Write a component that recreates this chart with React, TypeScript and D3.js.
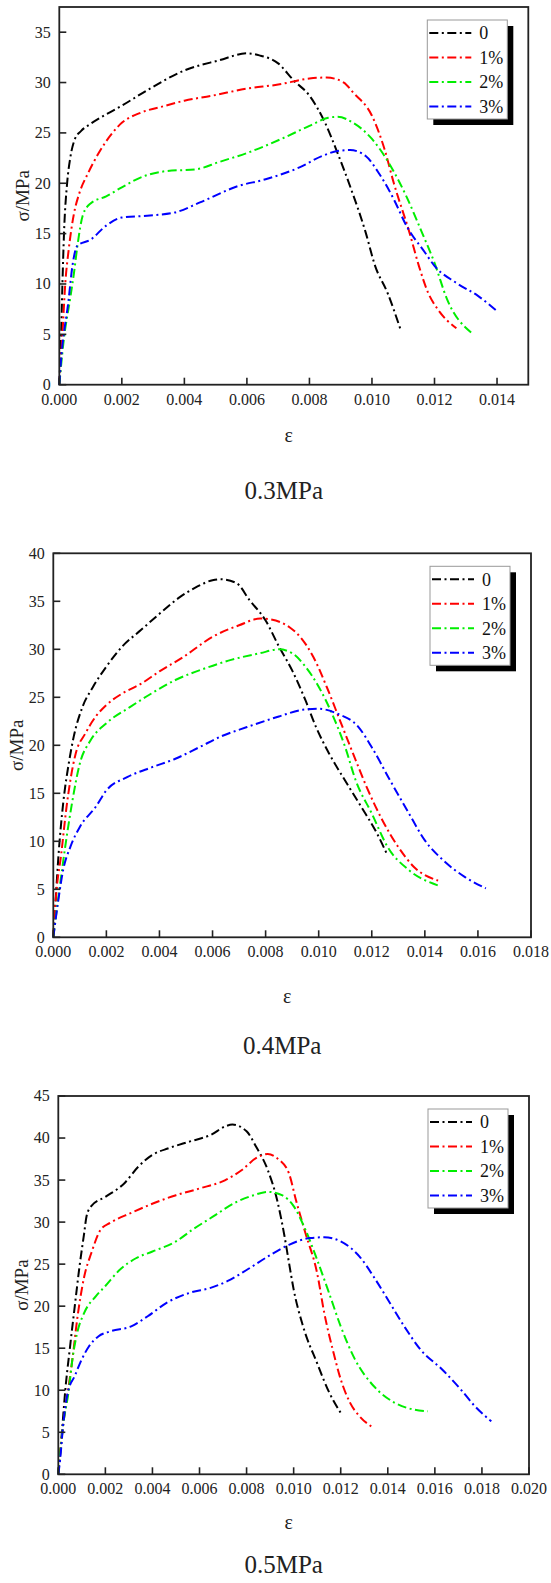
import * as d3 from 'd3';

// legend entries
const seriesNames = ['0', '1%', '2%', '3%'];
const seriesColors = ['#000000', '#ff0000', '#00ee00', '#0000ff'];

// panel titles
const titles = ['0.3MPa', '0.4MPa', '0.5MPa'];

// axis ticks
const xTicks03 = [0, 0.002, 0.004, 0.006, 0.008, 0.01, 0.012, 0.014];
const xTicks04 = [0, 0.002, 0.004, 0.006, 0.008, 0.01, 0.012, 0.014, 0.016, 0.018];
const xTicks05 = [0, 0.002, 0.004, 0.006, 0.008, 0.01, 0.012, 0.014, 0.016, 0.018, 0.02];
const yTicks03 = [0, 5, 10, 15, 20, 25, 30, 35];
const yTicks04 = [0, 5, 10, 15, 20, 25, 30, 35, 40];
const yTicks05 = [0, 5, 10, 15, 20, 25, 30, 35, 40, 45];

// [strain, stress MPa]
const p03_0 = [[0,0],[0.00005,4],[0.0001,10],[0.00015,15],[0.00025,20],[0.00035,22.5],[0.0005,24.4],[0.0007,25.2],[0.001,25.9],[0.002,27.7],[0.0029,29.4],[0.004,31.2],[0.0051,32.2],[0.006,32.9],[0.0064,32.7],[0.007,31.9],[0.0075,30.2],[0.008,28.7],[0.0085,26],[0.0089,23],[0.0093,19.7],[0.0098,15.1],[0.0101,11.8],[0.0105,9.1],[0.0109,5.6]];
const p03_1 = [[0,0],[0.0001,5],[0.00019,10],[0.0003,13.4],[0.00047,17],[0.00064,19],[0.00092,21],[0.00126,23],[0.0017,25],[0.002,26],[0.0026,27],[0.0034,27.7],[0.004,28.2],[0.0049,28.7],[0.006,29.4],[0.007,29.8],[0.008,30.4],[0.00855,30.5],[0.0091,30],[0.0094,29],[0.01,26.7],[0.0104,23.4],[0.0107,20],[0.0112,15.1],[0.0115,11.8],[0.0118,9.1],[0.0121,7.5],[0.0127,5.6]];
const p03_2 = [[0,0],[0.00013,4.1],[0.00036,8.8],[0.00047,11.1],[0.00058,13.8],[0.00075,16.8],[0.001,18],[0.0015,18.7],[0.002,19.6],[0.0027,20.7],[0.0034,21.2],[0.0044,21.4],[0.0051,22.1],[0.006,23],[0.0071,24.4],[0.008,25.7],[0.0086,26.5],[0.0089,26.6],[0.0094,26],[0.01,24.4],[0.0106,21.7],[0.0111,18.7],[0.0116,15.1],[0.012,12.1],[0.0124,8.5],[0.0132,5.1]];
const p03_3 = [[0,0],[0.00004,1.8],[0.0003,8.5],[0.00042,11.8],[0.00058,13.8],[0.001,14.4],[0.0015,15.8],[0.002,16.6],[0.0029,16.8],[0.0037,17.1],[0.0045,18.1],[0.0057,19.7],[0.0066,20.4],[0.0077,21.6],[0.0084,22.7],[0.0089,23.2],[0.0093,23.3],[0.0098,22.7],[0.0102,21.1],[0.0107,18.4],[0.0111,15.8],[0.0117,13.1],[0.012,11.8],[0.0127,10.1],[0.0134,8.8],[0.014,7.3]];

const p04_0 = [[0,0],[0.00008,3.5],[0.0002,8.7],[0.00037,13.9],[0.0006,18.4],[0.00077,20.9],[0.0011,24],[0.0015,26.1],[0.002,28.2],[0.0026,30.3],[0.0033,32],[0.004,33.7],[0.0047,35.3],[0.0054,36.5],[0.006,37.2],[0.0063,37.3],[0.0069,36.9],[0.0074,35.1],[0.008,33],[0.0085,30.3],[0.009,27.8],[0.0095,24.7],[0.0099,21.9],[0.0104,19.1],[0.011,16.3],[0.0116,13.6],[0.0122,10.8],[0.0126,8.5]];
const p04_1 = [[0,0],[0.0001,4.2],[0.0003,8.7],[0.0005,13.6],[0.00064,16.3],[0.00084,19.1],[0.0012,21.2],[0.0016,23],[0.002,24.2],[0.0026,25.4],[0.0033,26.4],[0.004,27.7],[0.0049,29.2],[0.006,31.3],[0.007,32.5],[0.0078,33.2],[0.0082,33.1],[0.0089,32.3],[0.0093,31.3],[0.0098,29.2],[0.0103,26.1],[0.0108,22.6],[0.0113,19.1],[0.0118,15.7],[0.0124,12.2],[0.013,9.4],[0.0136,7.3],[0.0145,5.9]];
const p04_2 = [[0,0],[0.00024,5.2],[0.0005,10.4],[0.0007,13.9],[0.001,18.1],[0.0014,20.5],[0.002,22.3],[0.0029,24],[0.0037,25.4],[0.0046,26.8],[0.0057,28],[0.0067,28.9],[0.0078,29.6],[0.0085,30],[0.009,29.6],[0.0095,28.2],[0.01,26.1],[0.0105,23.3],[0.011,19.8],[0.0114,16.3],[0.012,12.9],[0.0126,9.4],[0.0134,7],[0.0145,5.4]];
const p04_3 = [[0,0],[0.00017,3.5],[0.00037,7],[0.00064,9.4],[0.001,11.5],[0.0016,13.6],[0.002,15.3],[0.0028,16.7],[0.0037,17.7],[0.0046,18.6],[0.0055,19.8],[0.0063,20.9],[0.0073,21.9],[0.0085,23],[0.0094,23.7],[0.01,23.8],[0.0107,23.3],[0.0115,21.9],[0.012,19.8],[0.0127,16.3],[0.0134,12.9],[0.014,10.1],[0.0147,8],[0.0155,6.3],[0.0163,5.1]];

const p05_0 = [[0,0],[0.00015,4.9],[0.0003,10.1],[0.0005,15.2],[0.0007,20],[0.0009,24.7],[0.0011,28.7],[0.0012,30.7],[0.0014,31.9],[0.002,33],[0.0028,34.6],[0.0034,36.6],[0.004,38],[0.0047,38.8],[0.0056,39.6],[0.0065,40.4],[0.0071,41.4],[0.0074,41.6],[0.008,40.8],[0.0084,39],[0.0089,36.2],[0.0093,32.6],[0.0096,28.5],[0.0098,25.2],[0.01,22],[0.0104,17.6],[0.011,13.2],[0.0115,9.8],[0.012,7.3]];
const p05_1 = [[0,0],[0.0002,5.7],[0.0004,9.7],[0.0006,13.7],[0.0008,18.4],[0.0011,23.5],[0.0014,26.3],[0.0018,29.1],[0.0022,29.9],[0.0031,31.1],[0.0041,32.3],[0.005,33.2],[0.006,34],[0.0071,35],[0.0078,36.2],[0.0084,37.6],[0.0089,38.1],[0.0093,37.6],[0.0098,35.8],[0.0101,32.6],[0.0105,28.7],[0.011,23.9],[0.0113,19.2],[0.0117,14.4],[0.012,11.3],[0.0124,8.5],[0.0128,6.9],[0.0133,5.7]];
const p05_2 = [[0,0],[0.0002,5.7],[0.00045,10.1],[0.0006,13.7],[0.0008,16.8],[0.0011,19.2],[0.0016,21.2],[0.002,22.4],[0.0026,24.3],[0.0033,25.7],[0.004,26.5],[0.005,27.7],[0.0057,29.1],[0.0066,30.7],[0.0075,32.3],[0.0083,33.2],[0.0089,33.6],[0.0095,33.2],[0.01,31.9],[0.0105,29.1],[0.011,25.5],[0.0115,21.6],[0.012,17.6],[0.0126,13.7],[0.0134,10.5],[0.0143,8.5],[0.0151,7.7],[0.0157,7.5]];
const p05_3 = [[0,0],[0.00008,1.8],[0.0002,5.7],[0.0004,9.7],[0.0007,11.7],[0.001,13.7],[0.0013,15.2],[0.0017,16.4],[0.0022,17],[0.0031,17.6],[0.0038,18.8],[0.0046,20.4],[0.0056,21.6],[0.0065,22.2],[0.0072,23],[0.008,24.3],[0.0089,25.9],[0.0098,27.3],[0.0107,28.1],[0.0113,28.2],[0.012,27.7],[0.0128,25.9],[0.0134,23.5],[0.014,20.8],[0.0147,17.6],[0.0154,14.8],[0.0163,12.5],[0.0171,10.1],[0.0177,8.1],[0.0184,6.3]];

type Pt = number[];

const panels = [
  { title: titles[0], box: [59.3, 528.3, 7, 384.7], xMax: 0.015, yMax: 37.5, xTicks: xTicks03, yTicks: yTicks03, curves: [p03_0, p03_1, p03_2, p03_3], epsGap: 51, titleGap: 106 },
  { title: titles[1], box: [53.3, 531, 553.3, 937.3], xMax: 0.018, yMax: 40, xTicks: xTicks04, yTicks: yTicks04, curves: [p04_0, p04_1, p04_2, p04_3], epsGap: 60, titleGap: 108 },
  { title: titles[2], box: [58.3, 529, 1096, 1474.3], xMax: 0.02, yMax: 45, xTicks: xTicks05, yTicks: yTicks05, curves: [p05_0, p05_1, p05_2, p05_3], epsGap: 49, titleGap: 90 },
];

const FONT = '"Liberation Serif", "Times New Roman", serif';
const DASH = '9,3.5,2,3.5';
const AXIS = '#222';

const Panel = ({ p }: { p: typeof panels[number] }) => {
  const [left, right, top, bottom] = p.box;
  const x = d3.scaleLinear().domain([0, p.xMax]).range([left, right]);
  const y = d3.scaleLinear().domain([0, p.yMax]).range([bottom, top]);
  const line = d3.line<Pt>()
    .x(d => x(d[0]))
    .y(d => y(d[1]))
    .curve(d3.curveMonotoneX);
  const fmt = d3.format('.3f');
  const cx = (left + right) / 2;
  const cy = (top + bottom) / 2;

  // legend box
  const lw = 80, lh = 99;
  const lx = right - 21 - lw;
  const ly = top + 13;

  return (
    <g>
      {p.curves.map((c, i) => (
        <path key={i} d={line(c as Pt[]) || ''} fill="none" stroke={seriesColors[i]}
          strokeWidth={2} strokeDasharray={DASH} />
      ))}

      {/* frame */}
      <rect x={left} y={top} width={right - left} height={bottom - top}
        fill="none" stroke={AXIS} strokeWidth={1.8} />

      {/* x ticks, pointing in */}
      {p.xTicks.map(t => (
        <g key={'x' + t}>
          <line x1={x(t)} x2={x(t)} y1={bottom} y2={bottom - 7} stroke={AXIS} strokeWidth={1.6} />
          <text x={x(t)} y={bottom + 20} textAnchor="middle" fontFamily={FONT} fontSize={16} fill="#222">{fmt(t)}</text>
        </g>
      ))}

      {/* y ticks */}
      {p.yTicks.map(t => (
        <g key={'y' + t}>
          <line x1={left} x2={left + 7} y1={y(t)} y2={y(t)} stroke={AXIS} strokeWidth={1.6} />
          <text x={left - 8.5} y={y(t)} dy="0.34em" textAnchor="end" fontFamily={FONT} fontSize={16} fill="#222">{t}</text>
        </g>
      ))}

      <text transform={`translate(${left - 37},${cy}) rotate(-90)`} textAnchor="middle" dy="0.35em"
        fontFamily={FONT} fontSize={19} fill="#222">σ/MPa</text>
      <text x={cx - 5} y={bottom + p.epsGap} dy="0.3em" textAnchor="middle" fontFamily={FONT} fontSize={20} fill="#222">ε</text>
      <text x={cx - 10} y={bottom + p.titleGap} dy="0.35em" textAnchor="middle" fontFamily={FONT} fontSize={25} fill="#222">{p.title}</text>

      {/* legend with drop shadow */}
      <rect x={lx + 6} y={ly + 6} width={lw} height={lh} fill="#000" />
      <rect x={lx} y={ly} width={lw} height={lh} fill="#fff" stroke="#999" strokeWidth={1} />
      {seriesNames.map((s, i) => {
        const ry = ly + 13 + i * 24.5;
        return (
          <g key={s}>
            <line x1={lx + 2} x2={lx + 44} y1={ry} y2={ry} stroke={seriesColors[i]} strokeWidth={2} strokeDasharray={DASH} />
            <text x={lx + 52} y={ry} dy="0.35em" fontFamily={FONT} fontSize={18} fill="#111">{s}</text>
          </g>
        );
      })}
    </g>
  );
};

export default function App() {
  return (
    <>
      <style>{'body{margin:0}'}</style>
      <svg width={551} height={1583} style={{ display: 'block', background: '#fff' }}>
        {panels.map(p => <Panel key={p.title} p={p} />)}
      </svg>
    </>
  );
}
